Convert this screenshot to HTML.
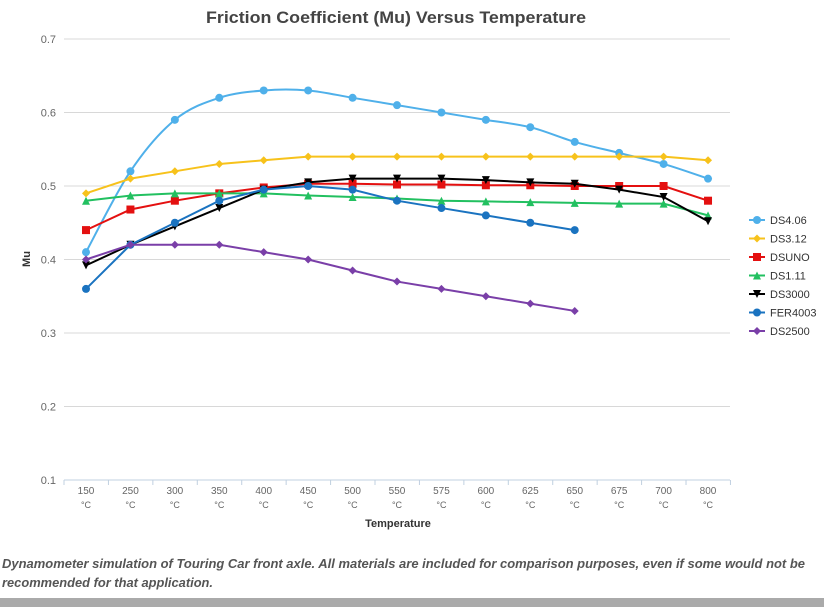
<!DOCTYPE html>
<html><head><meta charset="utf-8"><style>
body{margin:0;background:#fff;width:824px;height:607px;overflow:hidden;font-family:"Liberation Sans",sans-serif}
</style></head><body>
<svg id="s" width="824" height="607" xmlns="http://www.w3.org/2000/svg" font-family="Liberation Sans, sans-serif">
<text x="206" y="23" font-size="16.5" font-weight="bold" fill="#444" textLength="380" lengthAdjust="spacingAndGlyphs">Friction Coefficient (Mu) Versus Temperature</text>
<text x="30" y="259" font-size="11" font-weight="bold" fill="#333" transform="rotate(-90 30 259)" text-anchor="middle">Mu</text>
<text x="398" y="527" text-anchor="middle" font-size="11" font-weight="bold" fill="#333">Temperature</text>
<text x="2" y="568" font-size="12.5" font-style="italic" font-weight="bold" fill="#555" textLength="803" lengthAdjust="spacingAndGlyphs">Dynamometer simulation of Touring Car front axle. All materials are included for comparison purposes, even if some would not be</text>
<text x="2" y="587" font-size="12.5" font-style="italic" font-weight="bold" fill="#555" textLength="211" lengthAdjust="spacingAndGlyphs">recommended for that application.</text>
<rect x="0" y="598" width="824" height="9" fill="#aaa"/>
<g id="g"></g>
</svg>
<script>
var g=document.getElementById('g'),h='';
function Y(v){return 39+(0.7-v)*735;}
function X(i){return 86+i*44.43;}
for(var k=1;k<=7;k++){var v=k/10,y=Y(v);h+='<line x1="64" x2="730" y1="'+y+'" y2="'+y+'" stroke="'+(k==1?'#c0d0e0':'#d8d8d8')+'"/>';
h+='<text x="56" y="'+(y+4)+'" text-anchor="end" font-size="11" fill="#666">'+v.toFixed(1)+'</text>';}
var cats=[150,250,300,350,400,450,500,550,575,600,625,650,675,700,800];
for(var i=0;i<=15;i++){var x=64+i*44.43;h+='<line x1="'+x+'" x2="'+x+'" y1="480" y2="485" stroke="#c0d0e0"/>';}
cats.forEach(function(c,i){h+='<text x="'+X(i)+'" y="494" text-anchor="middle" font-size="10" fill="#666">'+c+'</text><text x="'+X(i)+'" y="508" text-anchor="middle" font-size="9" fill="#666">°C</text>';});
var S=[
['DS4.06','#4fb0ea','c',[.41,.52,.59,.62,.63,.63,.62,.61,.60,.59,.58,.56,.545,.53,.51],1],
['DS3.12','#f7c21b','d',[.49,.51,.52,.53,.535,.54,.54,.54,.54,.54,.54,.54,.54,.54,.535]],
['DSUNO','#e41010','s',[.44,.468,.48,.49,.498,.503,.503,.502,.502,.501,.501,.5,.5,.5,.48]],
['DS1.11','#22c060','t',[.48,.487,.49,.49,.49,.487,.485,.483,.48,.479,.478,.477,.476,.476,.46]],
['DS3000','#000','v',[.392,.42,.445,.47,.495,.505,.51,.51,.51,.508,.505,.503,.495,.485,.452]],
['FER4003','#1a73c0','c',[.36,.42,.45,.48,.495,.50,.495,.48,.47,.46,.45,.44]],
['DS2500','#7a3fa8','d',[.40,.42,.42,.42,.41,.40,.385,.37,.36,.35,.34,.33]]];
function mk(t,x,y,c){if(t=='c')return '<circle cx="'+x+'" cy="'+y+'" r="4" fill="'+c+'"/>';
if(t=='d')return '<path d="M'+x+' '+(y-4)+'L'+(x+4)+' '+y+'L'+x+' '+(y+4)+'L'+(x-4)+' '+y+'Z" fill="'+c+'"/>';
if(t=='s')return '<rect x="'+(x-4)+'" y="'+(y-4)+'" width="8" height="8" fill="'+c+'"/>';
if(t=='t')return '<path d="M'+x+' '+(y-4)+'L'+(x+4)+' '+(y+4)+'L'+(x-4)+' '+(y+4)+'Z" fill="'+c+'"/>';
return '<path d="M'+(x-4)+' '+(y-4)+'L'+(x+4)+' '+(y-4)+'L'+x+' '+(y+4)+'Z" fill="'+c+'"/>';}
S.forEach(function(s,j){var p=s[3].map(function(v,i){return [X(i),Y(v)];}),d='M'+p[0];
if(s[4]){for(var i=0;i<p.length-1;i++){var p0=p[Math.max(i-1,0)],p1=p[i],p2=p[i+1],p3=p[Math.min(i+2,p.length-1)];
d+='C'+(p1[0]+(p2[0]-p0[0])/6)+','+(p1[1]+(p2[1]-p0[1])/6)+' '+(p2[0]-(p3[0]-p1[0])/6)+','+(p2[1]-(p3[1]-p1[1])/6)+' '+p2;}}
else for(var i=1;i<p.length;i++)d+='L'+p[i];
h+='<path d="'+d+'" fill="none" stroke="'+s[1]+'" stroke-width="2"/>';
p.forEach(function(q){h+=mk(s[2],q[0],q[1],s[1]);});
var ly=220+j*18.5;h+='<line x1="749" x2="765" y1="'+ly+'" y2="'+ly+'" stroke="'+s[1]+'" stroke-width="2"/>'+mk(s[2],757,ly,s[1]);
h+='<text x="770" y="'+(ly+4)+'" font-size="11" fill="#333">'+s[0]+'</text>';});
g.innerHTML=h;
</script>
</body></html>
